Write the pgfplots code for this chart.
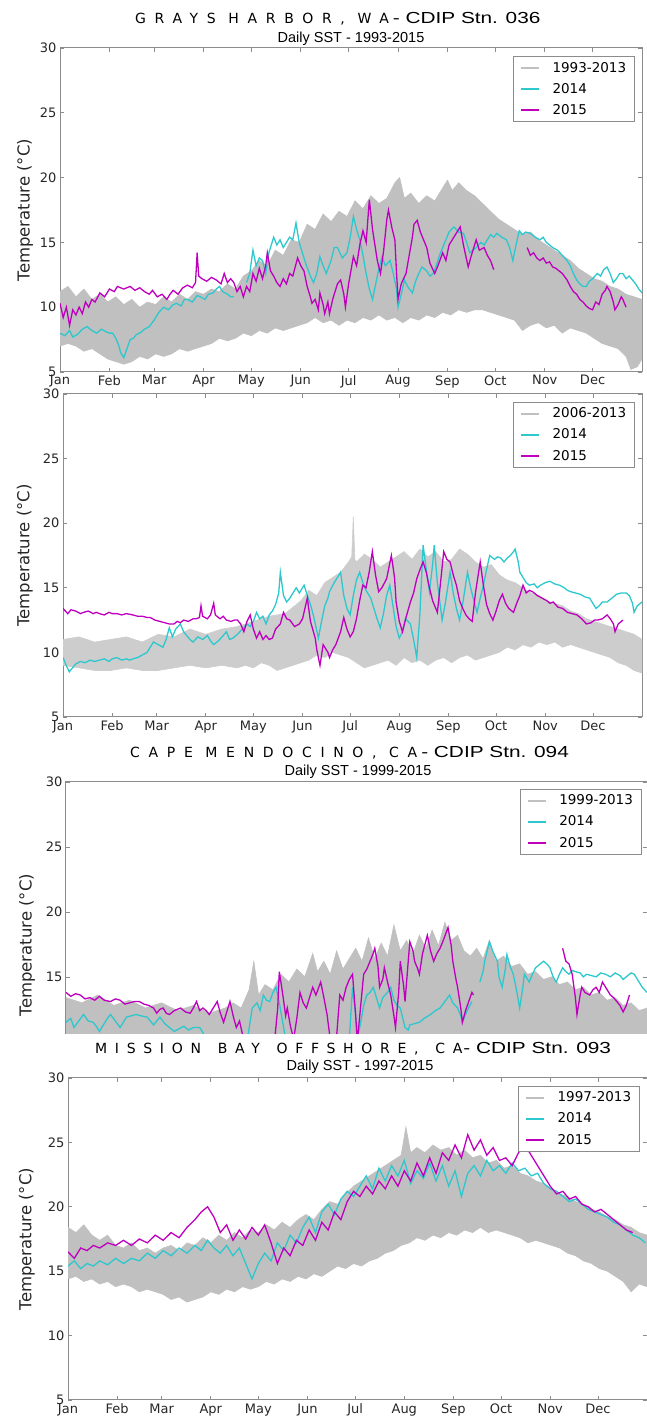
\documentclass[border=0pt]{standalone}
\usepackage{pgfplots}
\pgfplotsset{compat=1.18}
\usepackage{fontspec}
\setmainfont{DejaVu Sans}
\newfontfamily\spacedfont[LetterSpace=62]{DejaVu Sans}
\newfontfamily\spacedfontb[LetterSpace=55]{DejaVu Sans}
\newfontfamily\titlefont[FakeStretch=1.3]{Liberation Sans}
\newfontfamily\subfont{Liberation Sans}
\definecolor{graycol}{RGB}{192,192,192}
\definecolor{graylt}{RGB}{205,205,205}
\definecolor{cyancol}{RGB}{45,200,205}
\definecolor{magcol}{RGB}{190,0,190}
\definecolor{axiscol}{RGB}{140,140,140}
\pgfplotsset{
 sst/.style={
  scale only axis, anchor=south west,
  xmin=0, xmax=365, ymin=5, ymax=30,
  xtick={0,31,59,90,120,151,181,212,243,273,304,334},
  xticklabels={Jan,Feb,Mar,Apr,May,Jun,Jul,Aug,Sep,Oct,Nov,Dec},
  ytick={5,10,15,20,25,30},
  tick align=inside, major tick length=4pt,
  tick style={axiscol, line width=0.6pt},
  axis line style={axiscol, line width=1pt},
  ticklabel style={font=\fontsize{13}{15}\selectfont, text=black!85},
  /pgf/number format/assume math mode=true,
  ylabel={Temperature (°C)},
  ylabel style={font=\fontsize{16.5}{18}\selectfont, anchor=center, text=black!85},
  legend style={at={(0.988,0.975)}, anchor=north east, draw=axiscol, line width=0.8pt,
    fill=white, font=\fontsize{13.5}{15}\selectfont, inner xsep=7pt, inner ysep=4pt,
    row sep=6.5pt, column sep=11pt, nodes={inner sep=1.5pt}, cells={anchor=west}},
  legend image code/.code={\draw[#1, line width=1.6pt] (0pt,0pt) -- (18pt,0pt);},
  unbounded coords=jump,
 },
 band/.style={fill=graycol, draw=graycol, line width=0.6pt, forget plot},
 c14/.style={color=cyancol, line width=1.3pt},
 c15/.style={color=magcol, line width=1.3pt},
}
\begin{document}
\begin{tikzpicture}[x=1pt,y=1pt]
\path[use as bounding box] (0,0) rectangle (647,1418);
% ---------------- Panel 1: Grays Harbor
\node[anchor=base west, inner sep=0] at (135,1394.5) {{\spacedfont\fontsize{14}{16}\selectfont GRAYS\hspace{0.9em}HARBOR,\hspace{0.9em}WA}\hspace{4pt}{\titlefont\fontsize{16}{18}\selectfont - CDIP Stn. 036}};
\node[anchor=base, inner sep=0] at (351,1375) {\subfont\fontsize{14.5}{16}\selectfont Daily SST - 1993-2015};
\begin{axis}[sst, at={(60pt,1046pt)}, width=582pt, height=324pt,
  ylabel style={at={(axis description cs:-0.060,0.5)}}]
\addlegendimage{color=graycol}
\addlegendentry{1993-2013}
\addplot[band] coordinates {
(0,11.2)(5,11.6)(10,10.8)(15,11.4)(20,10.6)(25,11.0)(30,10.4)(35,10.8)(40,10.2)(45,10.6)(50,10.0)(55,10.4)(60,10.2)(65,10.8)(70,10.4)(75,11.0)(80,10.6)(85,11.2)(90,11.0)(95,11.4)(100,11.2)(105,11.8)(110,11.4)(115,12.4)(120,12.8)(125,13.6)(130,13.2)(135,14.4)(140,14.0)(145,15.2)(150,15.0)(155,16.4)(160,16.0)(165,17.2)(170,16.6)(175,17.4)(180,17.0)(185,18.2)(190,17.6)(195,18.6)(200,18.0)(205,18.4)(210,19.6)(213,20.0)(216,18.4)(220,18.8)(225,18.0)(230,18.6)(235,18.2)(240,19.2)(243,19.8)(246,19.0)(250,19.6)(255,19.0)(260,18.6)(265,18.0)(270,17.4)(275,16.8)(280,16.4)(285,16.0)(290,15.6)(295,15.8)(300,15.2)(305,14.8)(310,14.4)(315,14.0)(320,13.6)(325,13.0)(330,12.6)(335,12.2)(340,12.0)(345,11.6)(350,11.4)(355,11.0)(360,10.8)(365,10.6)
(365,6.0)(362,5.4)(358,5.2)(355,6.2)(350,6.8)(345,7.0)(340,7.2)(335,7.6)(330,8.0)(325,8.2)(320,8.4)(315,8.0)(310,8.6)(305,8.4)(300,8.8)(295,8.6)(290,8.2)(285,9.0)(280,9.2)(275,9.4)(270,9.6)(265,9.8)(260,9.8)(255,9.6)(250,9.8)(245,9.4)(240,9.6)(235,9.2)(230,9.4)(225,9.0)(220,9.2)(215,8.8)(210,9.2)(205,9.0)(200,9.4)(195,9.0)(190,9.2)(185,8.8)(180,9.0)(175,8.6)(170,9.0)(165,8.8)(160,9.2)(155,8.8)(150,8.6)(145,8.4)(140,8.2)(135,8.4)(130,8.0)(125,8.2)(120,7.8)(115,8.0)(110,7.6)(105,7.4)(100,7.6)(95,7.2)(90,7.0)(85,6.8)(80,6.6)(75,6.8)(70,6.4)(65,6.2)(60,6.4)(55,6.0)(50,6.2)(45,5.8)(40,5.6)(35,5.8)(30,6.0)(25,6.4)(20,6.8)(15,6.6)(10,7.0)(5,7.2)(0,7.0)
} -- cycle;
\addplot[c14] coordinates {
(0,8.0)(3,7.8)(6,8.2)(8,7.7)(11,7.9)(14,8.3)(17,8.5)(20,8.2)(23,8.0)(26,8.3)(29,8.1)(31,8.0)(33,8.0)(35,7.6)(37,7.0)(38,6.5)(40,6.1)(42,6.8)(44,7.5)(46,7.6)(48,7.9)(50,8.0)(53,8.3)(56,8.5)(59,9.0)(62,9.6)(65,10.0)(68,9.8)(71,10.2)(73,10.3)(76,10.1)(78,10.6)(80,10.6)(83,10.4)(86,10.9)(88,10.8)(91,10.6)(93,11.0)(96,11.1)(98,11.4)(100,11.6)(102,11.2)(105,11.0)(107,10.8)(109,10.8)(110,nan)(117,11.9)(119,12.6)(121,14.4)(123,13.2)(125,13.8)(127,13.6)(129,12.6)(131,14.2)(134,15.4)(136,14.8)(138,15.2)(140,14.6)(142,15.0)(144,15.4)(146,15.2)(148,16.5)(150,15.0)(152,14.2)(154,13.4)(157,12.4)(159,11.9)(161,12.6)(163,13.9)(165,13.2)(167,12.6)(170,13.6)(172,14.6)(174,14.6)(177,13.8)(180,14.2)(182,15.4)(184,17.0)(186,16.0)(188,15.2)(190,14.0)(192,12.6)(194,11.4)(196,10.6)(198,11.8)(200,13.0)(202,13.9)(204,13.2)(207,13.6)(209,12.6)(211,11.4)(212,10.0)(214,11.0)(216,12.1)(218,11.6)(221,11.1)(223,12.0)(225,12.6)(227,13.1)(230,12.8)(232,12.4)(234,12.6)(236,13.2)(238,14.0)(240,14.6)(242,15.2)(244,15.8)(247,16.2)(250,15.8)(253,15.7)(255,15.0)(257,14.2)(259,14.4)(261,14.6)(264,15.0)(266,14.8)(268,15.2)(270,15.6)(272,15.4)(274,15.7)(277,15.4)(280,15.2)(282,14.6)(284,13.6)(286,14.8)(288,15.9)(290,15.6)(292,15.8)(295,15.7)(298,15.4)(301,15.2)(303,15.4)(305,15.0)(307,14.8)(309,14.6)(312,14.4)(315,14.0)(318,13.6)(320,13.2)(322,12.6)(324,12.1)(326,11.8)(328,11.6)(330,11.6)(332,12.0)(334,12.2)(337,12.6)(339,12.4)(341,12.9)(343,13.1)(345,12.6)(347,11.9)(349,12.2)(351,12.6)(353,12.6)(355,12.2)(357,12.4)(359,12.1)(361,11.8)(363,11.4)(365,11.1)
};
\addlegendentry{2014}
\addplot[c15] coordinates {
(0,10.3)(2,9.2)(4,10.0)(6,8.6)(8,9.8)(10,9.4)(12,10.0)(14,9.5)(16,10.4)(18,10.0)(20,10.6)(22,10.4)(25,11.1)(28,10.8)(31,11.4)(34,11.2)(36,11.6)(40,11.4)(44,11.6)(47,11.3)(50,11.5)(53,11.2)(56,11.0)(58,11.3)(61,10.8)(64,11.0)(67,10.6)(69,11.0)(71,11.3)(74,11.0)(77,11.5)(80,11.7)(83,11.5)(85,11.9)(86,14.2)(87,12.4)(89,12.2)(92,12.0)(95,12.3)(98,12.1)(101,11.8)(103,12.6)(105,11.9)(107,12.2)(109,11.9)(111,11.2)(113,11.6)(115,10.8)(117,11.6)(119,11.2)(121,12.6)(123,12.0)(125,13.0)(127,12.2)(129,13.2)(130,14.2)(132,12.8)(134,12.4)(136,11.9)(138,11.6)(140,12.2)(142,11.8)(144,12.6)(146,12.4)(149,13.8)(151,13.2)(153,12.8)(155,11.6)(157,10.8)(158,10.3)(160,10.6)(162,9.8)(163,11.1)(165,10.2)(166,9.5)(168,10.4)(169,9.5)(171,10.6)(174,11.8)(176,12.1)(178,11.0)(179,10.0)(181,11.8)(184,13.9)(186,13.2)(188,14.8)(190,15.9)(192,15.0)(194,18.3)(196,16.0)(197,15.2)(199,13.6)(201,12.6)(203,14.4)(205,16.8)(206,17.5)(208,16.2)(210,15.2)(211,12.8)(212,10.6)(214,11.8)(217,12.6)(219,14.0)(221,15.4)(222,16.4)(224,16.7)(226,15.8)(228,15.2)(230,14.6)(232,13.4)(235,12.6)(237,13.2)(240,14.2)(242,13.6)(244,14.8)(246,15.2)(248,15.6)(251,16.2)(253,14.8)(256,13.1)(258,14.0)(261,15.2)(263,14.4)(266,14.6)(268,14.0)(270,13.6)(272,12.9)(273,nan)(293,14.6)(295,14.0)(297,14.2)(299,13.8)(301,13.6)(303,13.8)(305,13.4)(307,13.5)(309,13.1)(311,13.0)(313,12.8)(315,12.6)(318,12.1)(320,11.6)(322,11.2)(324,11.0)(326,10.6)(328,10.4)(330,10.1)(332,9.9)(334,9.8)(336,10.4)(338,10.2)(340,11.0)(342,11.3)(343,11.6)(345,11.2)(347,10.4)(348,9.8)(350,10.2)(352,10.8)(353,10.6)(355,10.0)
};
\addlegendentry{2015}
\end{axis}
% ---------------- Panel 2
\begin{axis}[sst, at={(63pt,701pt)}, width=579pt, height=323pt,
  ylabel style={at={(axis description cs:-0.066,0.5)}}]
\addlegendimage{color=graycol}
\addlegendentry{2006-2013}
\addplot[band, fill=graylt, draw=graylt] coordinates {
(0,11.0)(10,11.2)(20,10.8)(30,11.0)(40,11.2)(50,10.8)(60,11.4)(70,11.2)(80,11.8)(90,11.4)(100,11.8)(110,12.0)(120,12.4)(130,12.8)(140,13.0)(150,14.0)(155,14.8)(160,14.4)(165,15.4)(170,15.8)(175,16.2)(180,17.0)(182,17.4)(183,20.5)(184,17.2)(185,17.0)(190,17.6)(195,17.2)(200,16.6)(205,17.0)(210,17.4)(215,17.8)(220,17.2)(225,18.0)(230,17.4)(235,17.8)(240,17.0)(245,17.2)(250,18.0)(255,17.6)(260,17.0)(265,16.6)(270,16.8)(275,16.0)(280,15.6)(285,15.4)(290,15.0)(295,14.6)(300,14.4)(305,14.0)(310,13.8)(315,13.6)(320,13.2)(325,13.0)(330,12.6)(335,12.4)(340,12.2)(345,12.0)(350,11.8)(355,11.6)(360,11.4)(365,11.0)
(365,8.4)(360,8.6)(355,9.0)(350,9.2)(345,9.6)(340,9.8)(335,10.0)(330,10.2)(325,10.4)(320,10.6)(315,10.4)(310,10.8)(305,10.6)(300,10.8)(295,10.4)(290,10.6)(285,10.2)(280,10.4)(275,10.0)(270,9.8)(265,9.6)(260,9.4)(255,9.8)(250,9.6)(245,9.2)(240,9.6)(235,9.4)(230,9.0)(225,9.4)(220,9.2)(215,9.6)(210,9.0)(205,9.4)(200,9.2)(195,9.0)(190,8.8)(185,9.2)(180,9.6)(175,9.8)(170,10.0)(165,9.6)(160,9.8)(155,9.4)(150,9.2)(145,9.0)(140,8.8)(135,8.6)(130,9.0)(125,9.2)(120,8.8)(115,9.0)(110,8.8)(100,9.0)(90,8.8)(80,9.0)(70,8.8)(60,8.6)(50,8.6)(40,8.8)(30,8.6)(20,8.6)(10,8.8)(0,9.0)
} -- cycle;
\addplot[c14] coordinates {
(0,9.6)(2,9.0)(4,8.5)(6,8.8)(8,9.1)(11,9.3)(14,9.2)(17,9.4)(20,9.3)(23,9.4)(26,9.5)(29,9.3)(31,9.5)(34,9.6)(37,9.4)(40,9.5)(42,9.4)(44,9.5)(47,9.6)(50,9.8)(53,10.0)(55,10.4)(57,10.8)(60,10.6)(63,10.4)(65,11.0)(67,11.9)(69,11.2)(71,11.8)(74,12.2)(76,11.6)(78,11.3)(80,11.0)(82,10.8)(85,11.2)(88,11.0)(91,11.3)(93,10.9)(95,10.6)(98,10.9)(101,11.3)(103,11.6)(105,11.0)(107,11.1)(110,11.4)(113,11.8)(116,12.2)(118,12.0)(120,12.4)(122,13.1)(124,12.6)(126,12.8)(128,12.2)(130,12.9)(132,13.2)(134,13.7)(136,14.6)(137,16.2)(139,14.4)(141,13.9)(143,14.2)(145,14.6)(147,15.0)(149,14.6)(152,15.2)(154,14.4)(156,13.7)(158,12.8)(161,11.1)(163,12.4)(165,13.6)(167,14.2)(168,14.7)(171,15.4)(173,15.8)(175,16.2)(177,14.4)(179,13.4)(181,12.9)(183,14.4)(185,15.6)(187,16.2)(189,15.4)(191,14.8)(194,14.2)(196,13.4)(198,12.6)(200,11.9)(202,13.0)(204,14.4)(206,15.2)(208,13.6)(210,12.0)(212,11.1)(214,11.6)(216,12.6)(219,12.2)(221,11.0)(223,9.6)(225,13.0)(227,18.3)(229,16.4)(231,14.7)(233,16.8)(234,18.3)(236,15.4)(239,12.5)(241,13.8)(244,16.2)(246,14.6)(248,13.4)(250,12.5)(252,13.8)(255,16.2)(257,15.0)(259,14.0)(261,13.1)(263,14.2)(265,15.2)(267,16.4)(269,17.5)(272,17.2)(274,17.4)(276,17.3)(278,17.0)(280,17.3)(282,17.5)(284,17.8)(285,18.0)(287,17.0)(288,16.2)(290,15.8)(292,15.4)(294,15.2)(297,15.3)(299,15.0)(301,15.2)(304,15.4)(307,15.5)(310,15.3)(313,15.2)(316,15.0)(318,14.8)(320,14.7)(323,14.6)(326,14.5)(329,14.3)(332,14.2)(334,13.8)(336,13.4)(338,13.6)(340,13.9)(343,13.9)(346,14.2)(349,14.5)(352,14.6)(355,14.6)(357,14.4)(359,13.8)(360,13.1)(362,13.6)(365,13.9)
};
\addlegendentry{2014}
\addplot[c15] coordinates {
(0,13.4)(3,13.0)(5,13.3)(8,13.2)(11,13.0)(13,13.1)(16,13.2)(19,13.0)(21,13.1)(23,13.0)(26,12.9)(29,13.1)(31,13.0)(34,13.0)(37,12.9)(40,13.0)(44,12.9)(47,12.8)(50,12.8)(53,12.7)(55,12.7)(58,12.5)(61,12.4)(64,12.3)(67,12.2)(70,12.2)(72,12.4)(74,12.3)(76,12.5)(79,12.4)(82,12.6)(84,12.6)(86,12.7)(87,13.6)(88,12.8)(91,12.6)(93,12.9)(95,13.8)(96,12.9)(99,12.6)(101,12.8)(103,12.5)(106,12.4)(108,12.5)(110,12.5)(112,12.2)(114,11.6)(116,12.4)(118,12.9)(120,11.8)(122,11.1)(124,11.6)(126,11.0)(128,11.3)(130,11.0)(132,11.1)(134,11.8)(137,12.2)(139,13.1)(141,12.6)(143,12.5)(146,12.0)(149,12.2)(151,12.6)(154,14.2)(156,12.4)(159,11.1)(160,10.2)(162,9.0)(164,10.6)(167,10.0)(168,9.6)(170,10.2)(172,10.6)(175,11.6)(177,12.7)(179,11.8)(181,11.2)(183,11.6)(185,12.6)(187,14.0)(189,15.2)(191,15.0)(193,16.2)(195,17.8)(197,16.0)(199,14.7)(201,15.0)(204,15.7)(207,17.5)(209,15.8)(210,13.9)(212,12.4)(214,11.6)(216,12.6)(219,13.9)(221,14.6)(223,15.7)(225,16.4)(227,17.0)(229,16.2)(231,15.0)(233,14.0)(236,13.1)(238,15.4)(240,17.8)(242,17.2)(244,17.0)(246,16.0)(248,15.2)(250,14.0)(252,13.4)(254,12.9)(256,12.6)(258,12.4)(260,14.6)(263,17.0)(265,15.2)(267,13.7)(269,13.0)(271,12.5)(273,13.2)(275,14.0)(277,14.5)(279,13.8)(281,13.4)(284,13.1)(286,13.8)(288,14.4)(290,15.2)(292,14.6)(294,14.8)(296,14.7)(299,14.4)(302,14.2)(305,14.0)(307,13.8)(309,13.9)(312,13.5)(315,13.4)(318,13.1)(321,13.0)(324,12.9)(327,12.6)(330,12.2)(333,12.3)(335,12.5)(337,12.5)(340,12.6)(343,12.9)(345,12.6)(347,12.2)(348,11.6)(350,12.2)(353,12.5)
};
\addlegendentry{2015}
\end{axis}
% ---------------- Panel 3: Cape Mendocino
\node[anchor=base west, inner sep=0] at (130,660.5) {{\spacedfont\fontsize{14}{16}\selectfont CAPE\hspace{0.9em}MENDOCINO,\hspace{0.9em}CA}\hspace{4pt}{\titlefont\fontsize{16}{18}\selectfont - CDIP Stn. 094}};
\node[anchor=base, inner sep=0] at (358,642) {\subfont\fontsize{14.5}{16}\selectfont Daily SST - 1999-2015};
\begin{axis}[sst, at={(66pt,384pt)}, width=581pt, height=252pt, ymin=10.6,
  xtick=\empty, ytick={15,20,25,30},
  axis line style={draw=none},
  after end axis/.code={\draw[axiscol, line width=1pt] (rel axis cs:0,0) -- (rel axis cs:0,1) -- (rel axis cs:1,1) -- (rel axis cs:1,0);},
  legend style={at={(0.991,0.972)}},
  ylabel style={at={(axis description cs:-0.067,0.353)}}]
\addlegendimage{color=graycol}
\addlegendentry{1999-2013}
\addplot[band] coordinates {
(0,13.4)(10,13.0)(20,13.6)(30,12.8)(40,13.2)(50,12.6)(60,13.0)(70,12.4)(80,12.8)(90,12.2)(100,12.6)(105,13.0)(110,12.6)(115,14.0)(118,16.2)(121,13.6)(125,14.4)(130,14.0)(135,15.2)(140,14.6)(145,15.6)(150,15.0)(155,16.8)(158,15.4)(162,16.2)(166,15.2)(170,17.0)(174,15.6)(178,16.4)(182,17.2)(186,16.2)(190,18.0)(194,16.4)(198,17.6)(202,16.6)(206,19.0)(210,17.0)(214,17.8)(218,16.8)(222,18.2)(226,17.2)(230,18.6)(234,17.4)(238,19.2)(242,17.8)(246,18.2)(250,17.0)(254,16.6)(258,17.2)(262,16.4)(266,17.8)(270,16.2)(275,16.6)(280,15.8)(285,16.0)(290,15.2)(295,15.4)(300,14.8)(305,15.0)(310,14.4)(315,14.6)(320,14.0)(325,14.2)(330,13.6)(335,13.8)(340,13.2)(345,13.4)(350,12.8)(355,13.0)(360,12.4)(365,12.6)
(365,9.0)(0,9.0)
} -- cycle;
\addplot[c14] coordinates {
(0,11.5)(3,11.8)(5,11.1)(8,11.6)(11,12.1)(14,11.6)(17,11.5)(19,11.2)(21,10.8)(24,11.4)(26,11.8)(28,12.1)(31,11.6)(34,11.1)(36,11.5)(38,11.9)(41,12.0)(44,12.1)(47,12.0)(51,11.9)(53,11.6)(55,11.3)(57,11.6)(59,11.9)(62,11.4)(65,11.1)(68,10.8)(71,11.0)(74,11.2)(77,10.9)(80,11.1)(84,11.1)(86,10.7)(88,10.3)(90,nan)(114,10.2)(117,12.6)(120,13.0)(122,12.4)(124,13.6)(126,13.2)(128,13.1)(130,13.8)(132,14.2)(134,13.0)(136,11.6)(138,10.2)(139,nan)(178,10.2)(180,14.2)(182,12.0)(183,10.2)(185,11.4)(187,12.8)(189,13.6)(191,13.8)(193,14.2)(195,13.4)(197,12.6)(199,13.4)(202,13.8)(204,14.2)(206,13.2)(208,12.8)(210,12.6)(212,11.6)(213,11.1)(215,10.9)(216,11.3)(219,11.4)(222,11.5)(225,11.8)(229,12.1)(232,12.4)(235,12.6)(238,13.1)(241,13.6)(243,13.0)(246,12.6)(248,12.0)(249,11.5)(252,12.4)(255,13.1)(257,nan)(260,14.6)(262,15.4)(263,16.2)(265,17.2)(266,17.7)(268,17.0)(271,16.2)(272,15.0)(274,14.2)(276,15.6)(277,16.7)(279,15.8)(281,15.2)(283,14.0)(285,12.6)(287,14.2)(288,15.2)(290,14.8)(291,14.6)(293,15.2)(295,15.7)(297,15.9)(300,16.2)(302,16.0)(304,15.7)(306,15.0)(308,14.6)(310,15.2)(312,15.7)(314,15.4)(316,15.2)(318,15.5)(320,15.4)(323,15.3)(325,15.0)(327,15.2)(330,15.1)(333,15.0)(336,15.3)(339,15.2)(342,15.0)(345,15.3)(348,15.1)(350,14.8)(352,15.0)(355,15.3)(357,15.2)(360,14.6)(362,14.2)(365,13.8)
};
\addlegendentry{2014}
\addplot[c15] coordinates {
(0,13.8)(3,13.5)(6,13.7)(9,13.6)(12,13.3)(15,13.4)(18,13.2)(21,13.5)(24,13.2)(28,13.1)(31,13.3)(34,13.2)(37,12.9)(40,13.0)(43,13.1)(46,13.1)(49,12.9)(52,12.8)(55,12.6)(57,12.2)(59,12.5)(61,12.6)(63,12.2)(65,12.1)(68,12.4)(70,12.5)(72,12.6)(75,12.3)(78,12.2)(80,12.6)(82,13.1)(84,12.4)(86,12.6)(88,12.4)(90,12.1)(92,12.5)(95,13.1)(97,12.2)(99,11.5)(101,12.3)(103,13.1)(105,12.0)(107,11.1)(109,11.6)(111,10.5)(113,10.2)(115,9.8)(117,nan)(131,10.0)(133,12.6)(134,15.4)(136,13.8)(138,12.0)(139,12.6)(141,11.2)(143,10.2)(145,11.8)(147,13.8)(149,13.0)(151,12.6)(153,13.4)(155,14.2)(157,13.6)(160,14.6)(162,13.4)(164,12.1)(166,10.2)(168,9.8)(170,10.4)(172,13.6)(174,13.2)(176,14.2)(178,14.8)(180,15.2)(182,12.0)(183,10.0)(185,12.6)(187,15.2)(189,15.6)(191,16.2)(193,16.8)(194,17.2)(196,15.8)(197,14.2)(199,14.8)(200,15.7)(202,14.6)(204,13.6)(206,12.0)(207,11.1)(209,13.8)(210,16.2)(212,14.4)(213,13.1)(215,16.2)(216,17.7)(218,17.0)(219,16.2)(221,15.6)(222,15.2)(224,16.8)(227,18.2)(229,17.0)(231,16.2)(233,16.8)(235,17.2)(237,17.8)(240,18.8)(242,17.4)(243,16.2)(245,14.8)(246,14.2)(248,12.6)(249,11.5)(251,12.4)(253,13.1)(255,13.8)(256,13.6)(257,nan)(312,17.2)(314,16.2)(316,16.0)(318,15.2)(320,13.4)(321,12.1)(323,13.6)(324,14.2)(326,13.8)(329,13.6)(331,14.0)(333,14.2)(335,13.8)(337,14.6)(340,14.0)(342,13.6)(344,13.4)(346,13.1)(348,12.8)(350,12.3)(352,12.8)(354,13.6)
};
\addlegendentry{2015}
\end{axis}
% ---------------- Panel 4: Mission Bay
\node[anchor=base west, inner sep=0] at (95,364.5) {{\spacedfontb\fontsize{14}{16}\selectfont MISSION\hspace{1.2em}BAY\hspace{1.2em}OFFSHORE,\hspace{1.2em}CA}\hspace{1pt}{\titlefont\fontsize{16}{18}\selectfont - CDIP Stn. 093}};
\node[anchor=base, inner sep=0] at (360,347) {\subfont\fontsize{14.5}{16}\selectfont Daily SST - 1997-2015};
\begin{axis}[sst, at={(68pt,18pt)}, width=579pt, height=322pt,
  ylabel style={at={(axis description cs:-0.071,0.5)}}]
\addlegendimage{color=graycol}
\addlegendentry{1997-2013}
\addplot[band] coordinates {
(0,18.4)(5,18.0)(10,18.6)(15,17.8)(20,17.4)(25,17.8)(30,17.0)(35,16.8)(40,17.2)(45,16.6)(50,16.8)(55,16.4)(60,16.8)(65,17.0)(70,16.6)(75,17.2)(80,17.0)(85,17.6)(90,17.2)(95,17.8)(100,17.4)(105,18.0)(110,17.6)(115,18.2)(120,18.0)(125,18.6)(130,18.2)(135,18.8)(140,18.4)(145,19.0)(150,19.4)(155,19.0)(160,19.8)(165,20.4)(170,20.2)(175,21.0)(180,21.6)(185,22.0)(190,22.4)(195,22.8)(200,23.2)(205,23.6)(210,24.0)(213,26.2)(216,24.2)(220,24.6)(225,24.2)(230,24.8)(235,24.4)(240,24.6)(245,24.0)(250,24.4)(255,23.8)(260,24.0)(265,23.4)(270,23.6)(275,23.0)(280,23.2)(285,22.6)(290,22.4)(295,22.0)(300,21.8)(305,21.4)(310,21.0)(315,20.8)(320,20.4)(325,20.2)(330,19.8)(335,19.6)(340,19.2)(345,19.0)(350,18.6)(355,18.4)(360,18.0)(365,17.8)
(365,13.8)(360,14.0)(355,13.4)(350,14.2)(345,14.6)(340,15.0)(335,15.2)(330,15.6)(325,15.8)(320,16.2)(315,16.4)(310,16.8)(305,17.0)(300,17.2)(295,17.4)(290,17.2)(285,17.6)(280,17.8)(275,18.0)(270,18.2)(265,18.0)(260,18.4)(255,18.0)(250,18.2)(245,17.8)(240,18.0)(235,17.6)(230,17.8)(225,17.4)(220,17.6)(215,17.2)(210,17.0)(205,16.6)(200,16.4)(195,16.0)(190,15.8)(185,15.4)(180,15.6)(175,15.2)(170,15.4)(165,15.0)(160,14.6)(155,14.8)(150,14.4)(145,14.6)(140,14.2)(135,14.4)(130,14.0)(125,14.2)(120,13.8)(115,13.6)(110,13.8)(105,13.4)(100,13.6)(95,13.2)(90,13.4)(85,13.0)(80,12.8)(75,12.6)(70,13.0)(65,12.8)(60,13.2)(55,13.4)(50,13.6)(45,13.4)(40,13.8)(35,14.0)(30,13.8)(25,14.2)(20,14.0)(15,14.4)(10,14.2)(5,14.6)(0,14.4)
} -- cycle;
\addplot[c14] coordinates {
(0,15.4)(4,15.8)(8,15.2)(12,15.6)(16,15.4)(20,15.8)(25,15.5)(30,16.0)(35,15.6)(40,16.0)(45,15.8)(50,16.4)(55,16.0)(60,16.6)(65,16.2)(70,16.8)(75,16.4)(80,17.0)(84,16.6)(88,17.4)(92,16.8)(96,16.4)(100,17.0)(104,16.2)(108,16.8)(112,15.6)(116,14.4)(120,15.6)(124,16.4)(128,15.8)(132,17.2)(136,16.6)(140,17.8)(144,17.2)(148,18.4)(152,19.2)(156,18.0)(160,19.6)(164,20.2)(168,19.4)(172,20.6)(176,21.2)(180,20.8)(184,21.6)(188,22.4)(192,21.4)(196,23.0)(200,22.0)(204,23.2)(208,22.4)(212,23.6)(216,21.8)(220,22.8)(224,22.2)(228,23.4)(232,22.0)(236,23.2)(240,21.6)(244,22.8)(248,20.8)(252,22.6)(256,23.2)(260,22.4)(264,23.6)(268,22.8)(272,23.2)(276,22.6)(280,23.4)(284,22.8)(288,23.0)(292,22.4)(296,22.6)(300,21.8)(304,21.4)(308,21.2)(312,20.8)(316,20.4)(320,20.6)(324,20.2)(328,19.8)(332,19.6)(336,19.4)(340,19.2)(344,18.8)(348,18.6)(352,18.2)(356,17.8)(360,17.6)(364,17.2)
};
\addlegendentry{2014}
\addplot[c15] coordinates {
(0,16.5)(4,16.0)(8,16.8)(12,16.6)(16,17.0)(20,16.8)(25,17.2)(30,17.0)(35,17.4)(40,17.0)(45,17.5)(50,17.2)(55,17.8)(60,17.4)(65,18.0)(70,17.6)(75,18.4)(80,19.0)(84,19.6)(88,20.0)(92,19.2)(96,18.0)(100,18.6)(104,17.4)(108,18.2)(112,17.5)(116,18.4)(120,17.8)(124,18.6)(128,17.2)(132,15.6)(136,16.8)(140,16.2)(144,17.4)(148,17.0)(152,18.2)(156,17.4)(160,18.8)(164,18.2)(168,19.6)(172,19.0)(176,20.4)(180,21.2)(184,20.8)(188,21.6)(192,21.0)(196,22.0)(200,21.4)(204,22.4)(208,21.6)(212,22.8)(216,22.0)(220,23.4)(224,22.4)(228,23.8)(232,22.6)(236,24.2)(240,23.6)(244,24.8)(248,23.8)(252,25.6)(256,24.4)(260,25.2)(264,24.0)(268,24.6)(272,23.6)(276,23.8)(280,23.2)(284,24.2)(288,24.8)(292,24.0)(296,23.2)(300,22.4)(304,21.6)(308,21.0)(312,21.2)(316,20.6)(320,20.8)(324,20.2)(328,20.0)(332,19.6)(336,19.8)(340,19.4)(344,19.0)(348,18.6)(352,18.2)(356,18.0)
};
\addlegendentry{2015}
\end{axis}
\end{tikzpicture}
\end{document}
